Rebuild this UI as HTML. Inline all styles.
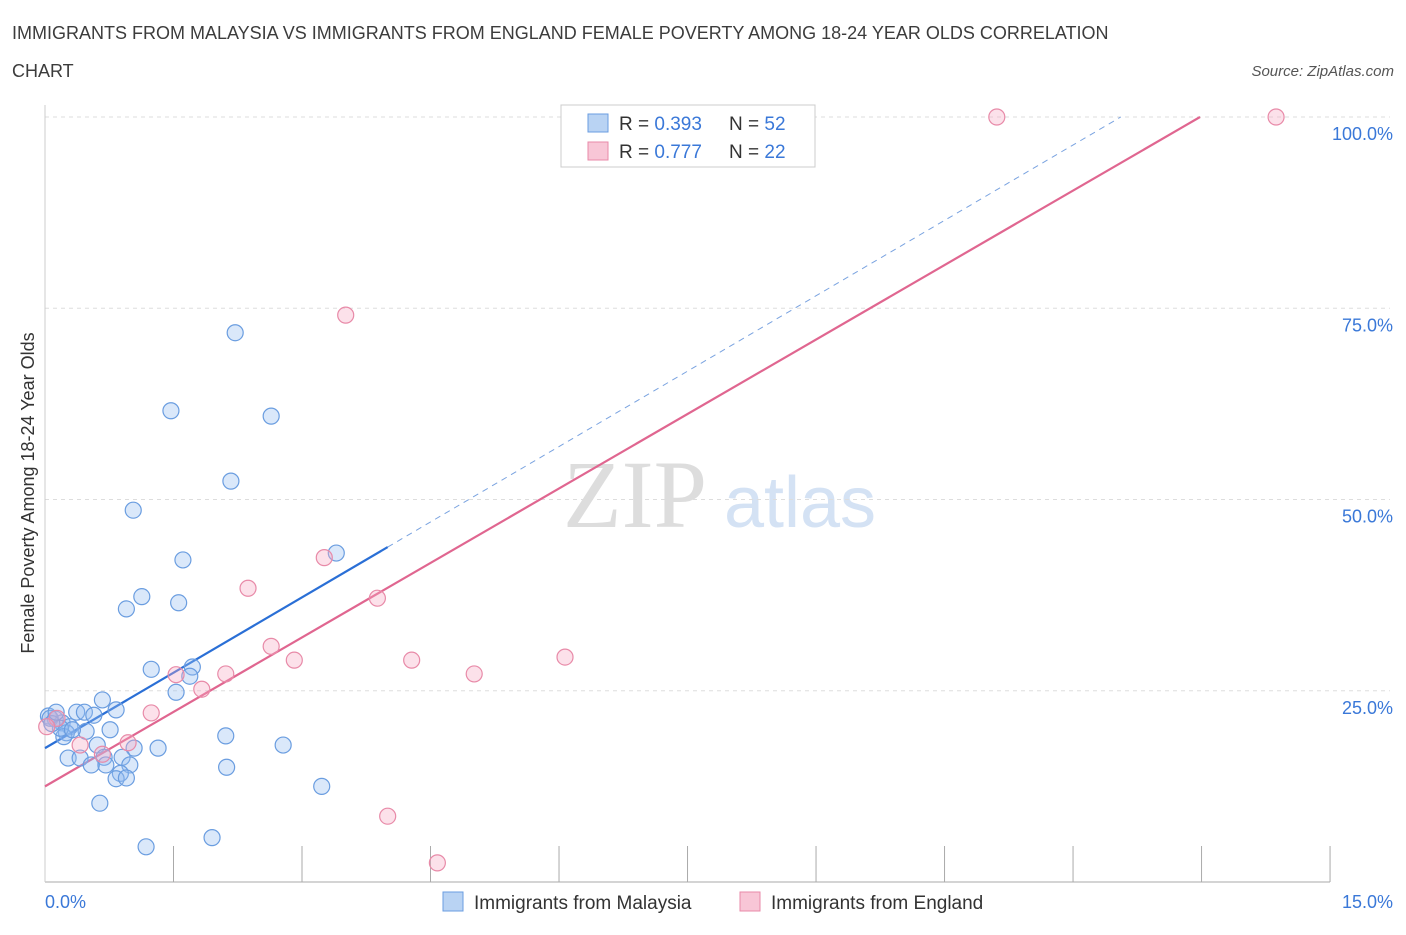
<!DOCTYPE html>
<html><head><meta charset="utf-8"><style>
body{margin:0;background:#fff;font-family:"Liberation Sans",sans-serif;}
</style></head><body>
<svg id="chart" width="1406" height="930" xmlns="http://www.w3.org/2000/svg" font-family="Liberation Sans, sans-serif">
<text x="12" y="39" font-size="18" fill="#3c3c3c">IMMIGRANTS FROM MALAYSIA VS IMMIGRANTS FROM ENGLAND FEMALE POVERTY AMONG 18-24 YEAR OLDS CORRELATION</text>
<text x="12" y="77" font-size="18" fill="#3c3c3c">CHART</text>
<text x="1394" y="76" font-size="15" font-style="italic" fill="#555" text-anchor="end">Source: ZipAtlas.com</text>
<text transform="translate(34,493) rotate(-90)" font-size="18" fill="#333" text-anchor="middle">Female Poverty Among 18-24 Year Olds</text>
<g><text x="635" y="527" font-size="96" font-family="Liberation Serif, serif" fill="#ddd" text-anchor="middle">ZIP</text><text x="800" y="527" font-size="72" fill="#d4e2f4" text-anchor="middle">atlas</text></g>
<g id="grid"></g><g id="axes"></g><g id="lines"></g><g id="pts"></g>
<g>
<rect x="561" y="105" width="254" height="62" fill="#fff" stroke="#ccc"/>
<rect x="588" y="114" width="20" height="18" fill="#b9d3f3" stroke="#6a9de0"/>
<text x="619" y="130" font-size="19" fill="#333">R = <tspan fill="#3a78d8">0.393</tspan></text>
<text x="729" y="130" font-size="19" fill="#333">N = <tspan fill="#3a78d8">52</tspan></text>
<rect x="588" y="142" width="20" height="18" fill="#f8c6d6" stroke="#e88aa8"/>
<text x="619" y="158" font-size="19" fill="#333">R = <tspan fill="#3a78d8">0.777</tspan></text>
<text x="729" y="158" font-size="19" fill="#333">N = <tspan fill="#3a78d8">22</tspan></text>
</g>
<g>
<rect x="443" y="892" width="20" height="19" fill="#b9d3f3" stroke="#6a9de0"/>
<text x="474" y="909" font-size="19" fill="#333">Immigrants from Malaysia</text>
<rect x="740" y="892" width="20" height="19" fill="#f8c6d6" stroke="#e88aa8"/>
<text x="771" y="909" font-size="19" fill="#333">Immigrants from England</text>
</g>
</svg>
<script>
const xTicks=[0,1.5,3,4.5,6,7.5,9,10.5,12,13.5,15];
const yTicks=[25,50,75,100];
const yTickLabels=["25.0%","50.0%","75.0%","100.0%"];
const blueX=[2.22,1.47,2.64,2.17,1.03,1.61,3.40,1.13,0.95,1.56,1.24,1.72,1.69,1.53,0.67,0.83,0.37,0.46,0.57,0.04,0.12,0.20,0.29,0.25,0.76,0.48,0.22,0.61,1.04,1.32,2.11,2.78,0.27,0.41,0.90,0.69,0.71,0.99,0.54,2.12,0.88,0.83,0.95,3.23,0.64,1.95,1.18,0.06,0.18,0.32,0.08,0.13];
const blueY=[71.8,61.6,60.9,52.4,48.6,42.1,43.0,37.3,35.7,36.5,27.8,28.1,26.9,24.8,23.8,22.5,22.2,22.2,21.8,21.7,21.3,20.8,20.3,19.5,19.9,19.7,19.0,17.9,17.5,17.5,19.1,17.9,16.2,16.2,16.3,16.3,15.3,15.3,15.3,15.0,14.2,13.5,13.6,12.5,10.3,5.8,4.6,21.4,20.1,19.9,20.7,22.2];
const pinkX=[11.11,14.37,3.51,3.26,2.37,3.88,2.64,2.91,4.28,5.01,6.07,1.53,2.11,1.83,1.24,0.14,0.02,0.41,0.97,0.67,4.00,4.58];
const pinkY=[100,100,74.1,42.4,38.4,37.1,30.8,29.0,29.0,27.2,29.4,27.1,27.2,25.2,22.1,21.4,20.3,17.9,18.2,16.7,8.6,2.5];
const blueTrend=[17.5,6.57];
const pinkTrend=[12.5,6.49];
const NS="http://www.w3.org/2000/svg";
const sx=v=>45+v*85.67, sy=v=>882-v*7.65;
function mk(parent,tag,attrs){const e=document.createElementNS(NS,tag);for(const k in attrs)e.setAttribute(k,attrs[k]);document.getElementById(parent).appendChild(e);return e;}
yTicks.forEach((t,i)=>{
 const g=mk('grid','line',{x1:45,x2:1390,y1:sy(t),y2:sy(t),stroke:'#ddd','stroke-dasharray':'4,4'});
 
 
 const l=mk('axes','text',{x:1393,y:sy(t)+23,'font-size':18,fill:'#3a78d8','text-anchor':'end'});
 l.textContent=yTickLabels[i];
 
 
});
const ax=mk('axes','line',{x1:45,x2:1330,y1:882,y2:882,stroke:'#aaa'});


const ay=mk('axes','line',{x1:45,x2:45,y1:105,y2:882,stroke:'#ccc'});


xTicks.forEach(t=>{const k=mk('axes','line',{x1:sx(t),x2:sx(t),y1:882,y2:t==0?882:846,stroke:'#aaa'});
 
 });
const xl=mk('axes','text',{x:45,y:908,'font-size':18,fill:'#3a78d8'});xl.textContent='0.0%';


const xr=mk('axes','text',{x:1393,y:908,'font-size':18,fill:'#3a78d8','text-anchor':'end'});xr.textContent='15.0%';


function tl(tr,x0,x1,col,dash,name){const e=mk('lines','line',{x1:sx(x0),y1:sy(tr[0]+tr[1]*x0),x2:sx(x1),y2:sy(tr[0]+tr[1]*x1),stroke:col,'stroke-width':dash?1:2.2});if(dash)e.setAttribute('stroke-dasharray','6,5');
 
 }
tl(blueTrend,0,4.0,'#2a6fd6',false,'malaysia-trendline');
tl(blueTrend,4.0,(100-blueTrend[0])/blueTrend[1],'#7aa3e0',true,'malaysia-trendline-extension');
tl(pinkTrend,0,(100-pinkTrend[0])/pinkTrend[1],'#e06690',false,'england-trendline');
function pts(X,Y,fill,stroke,name){X.forEach((x,i)=>{const c=mk('pts','circle',{cx:sx(x),cy:sy(Y[i]),r:8,fill:fill,stroke:stroke,'stroke-width':1.2});
 
 });}
pts(blueX,blueY,'rgba(150,190,240,0.35)','#6a9de0','malaysia-point');
pts(pinkX,pinkY,'rgba(245,170,195,0.35)','#e88aa8','england-point');
</script>
</body></html>
